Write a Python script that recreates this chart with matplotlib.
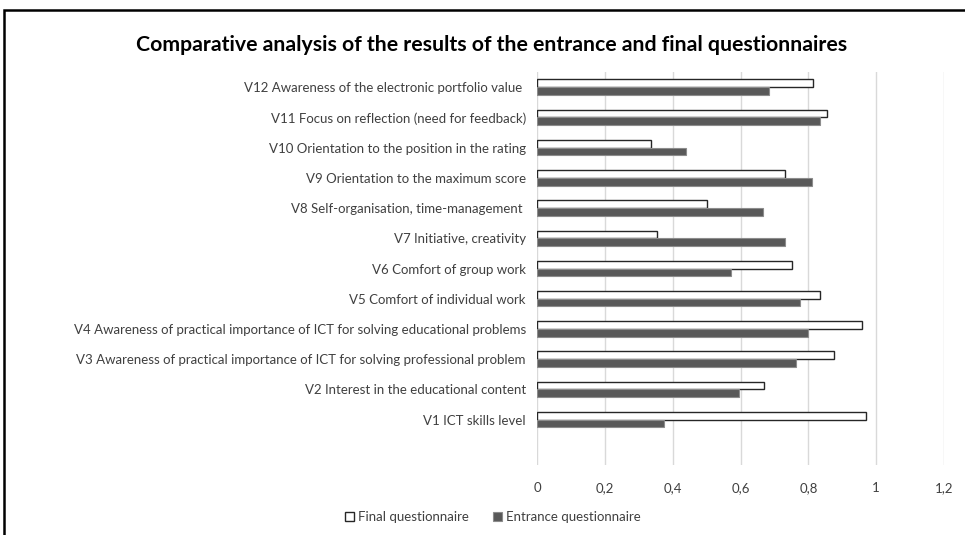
import numpy as np
import matplotlib
matplotlib.use('Agg')
import matplotlib.pyplot as plt
from matplotlib.patches import Rectangle
from matplotlib.ticker import FuncFormatter

plt.rcParams['font.family'] = ['Lato', 'DejaVu Sans']

labels = [
    'V1 ICT skills level',
    'V2 Interest in the educational content',
    'V3 Awareness of practical importance of ICT for solving professional problem',
    'V4 Awareness of practical importance of ICT for solving educational problems',
    'V5 Comfort of individual work',
    'V6 Comfort of group work',
    'V7 Initiative, creativity',
    'V8 Self-organisation, time-management ',
    'V9 Orientation to the maximum score',
    'V10 Orientation to the position in the rating',
    'V11 Focus on reflection (need for feedback)',
    'V12 Awareness of the electronic portfolio value ',
]
final_q = [0.970, 0.669, 0.875, 0.959, 0.834, 0.751, 0.355, 0.500, 0.731, 0.336, 0.855, 0.813]
entrance_q = [0.374, 0.595, 0.765, 0.800, 0.775, 0.572, 0.732, 0.665, 0.812, 0.439, 0.833, 0.685]

fig = plt.figure(figsize=(9.65, 5.35), dpi=100)
ax = fig.add_axes([537 / 965, 1 - 465 / 535, (944 - 537) / 965, (465 - 72) / 535])

y = np.arange(len(labels))
h = 0.255
ax.barh(y + h / 2, final_q, height=h, color='white', edgecolor='#262626',
        linewidth=1.0, label='Final questionnaire', zorder=3)
ax.barh(y - h / 2, entrance_q, height=h, color='#595959', edgecolor='#8c8c8c',
        linewidth=0.8, label='Entrance questionnaire', zorder=3)

ax.set_xlim(0, 1.2)
ax.set_ylim(-1.5, 11.5)
ax.set_xticks(np.arange(0, 1.21, 0.2))
ax.xaxis.set_major_formatter(FuncFormatter(
    lambda v, p: '0' if abs(v) < 1e-9 else ('1' if abs(v - 1) < 1e-9 else f'{v:.1f}'.replace('.', ','))))
ax.set_yticks(y)
ax.set_yticklabels(labels)
ax.tick_params(axis='both', length=0, labelsize=9.5, colors='#404040')
ax.tick_params(axis='x', pad=12)
ax.tick_params(axis='y', pad=8)
ax.grid(axis='x', color='#d9d9d9', linewidth=1.0, zorder=0)
for s in ax.spines.values():
    s.set_visible(False)

fig.text(492 / 965, 1 - 45 / 535, 'Comparative analysis of the results of the entrance and final questionnaires',
         ha='center', va='center', fontsize=15.3, fontweight='bold', color='black')

fig.legend(loc='center', bbox_to_anchor=(493 / 965, 1 - 517 / 535), ncol=2, frameon=False,
           fontsize=9.5, handlelength=0.7, handleheight=0.7, handletextpad=0.3,
           columnspacing=1.8, labelcolor='#404040')

# outer chart border (cropped on right and bottom)
fig.patches.append(Rectangle((4 / 965, -0.1), 1.2, 1 - 10 / 535 + 0.1, transform=fig.transFigure,
                             fill=False, edgecolor='black', linewidth=1.8))

fig.savefig('out.png', dpi=100)
